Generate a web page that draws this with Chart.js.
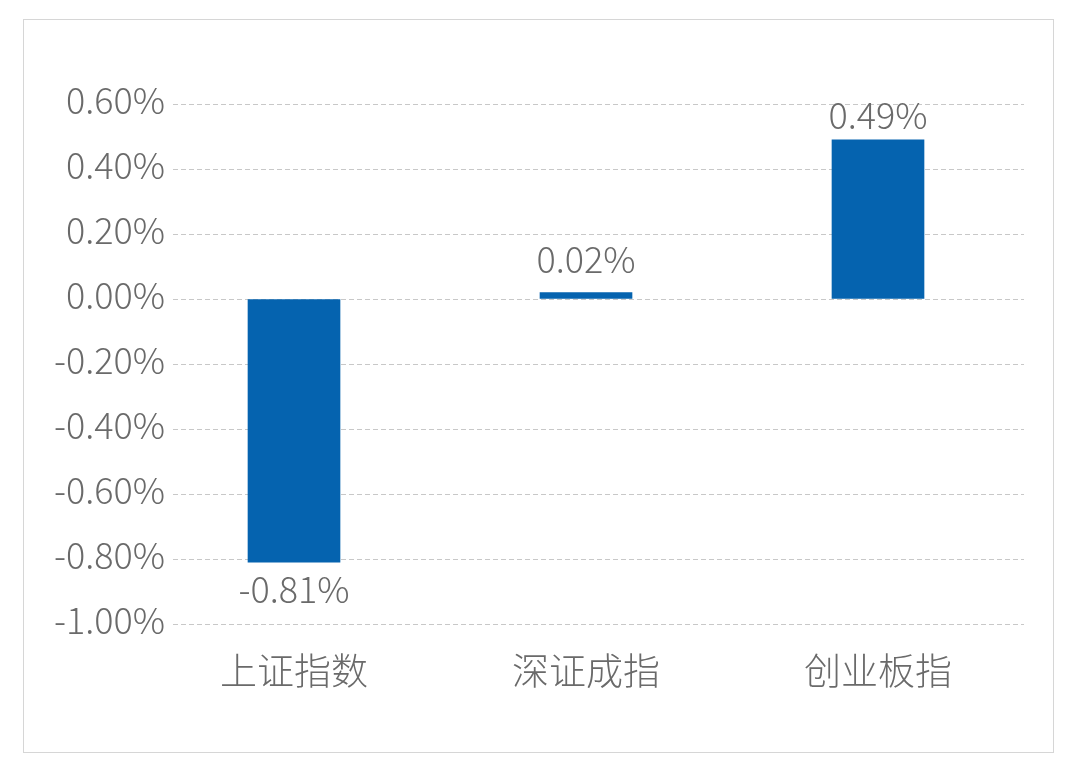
<!DOCTYPE html>
<html><head><meta charset="utf-8">
<script src="https://cdn.jsdelivr.net/npm/chart.js@4"></script>
<style>
html,body{margin:0;padding:0;background:#fff;}
#frame{position:absolute;left:23px;top:19px;width:1031px;height:734px;border:1px solid #d6d6d6;box-sizing:border-box;}
#wrap{position:absolute;left:0;top:0;width:1080px;height:772px;}
</style></head>
<body>
<div id="frame"></div>
<div id="wrap"><canvas id="c" width="1080" height="772"></canvas></div>
<script>
const categories = ['上证指数', '深证成指', '创业板指'];
const values = [-0.81, 0.02, 0.49];
const yTicks = [0.6, 0.4, 0.2, 0, -0.2, -0.4, -0.6, -0.8, -1.0];

const FONT = '"Noto Sans CJK SC", "Noto Sans", sans-serif';
const TXT = '#6a6a6a';

const valueLabels = {
  id: 'valueLabels',
  afterDatasetsDraw(chart) {
    const ctx = chart.ctx;
    const meta = chart.getDatasetMeta(0);
    const zeroY = chart.scales.y.getPixelForValue(0);
    ctx.save();
    ctx.font = '300 36px ' + FONT;
    ctx.fillStyle = TXT;
    ctx.textAlign = 'center';
    ctx.textBaseline = 'alphabetic';
    meta.data.forEach((bar, i) => {
      const v = values[i];
      const txt = v.toFixed(2) + '%';
      if (v >= 0) {
        ctx.fillText(txt, bar.x, Math.min(bar.y - 11, zeroY - 26));
      } else {
        ctx.fillText(txt, bar.x, bar.y + 41);
      }
    });
    ctx.restore();
  }
};

new Chart(document.getElementById('c'), {
  type: 'bar',
  data: {
    datasets: [{
      data: values.map((v, i) => ({x: i, y: v})),
      backgroundColor: '#0563AF',
      barThickness: 92
    }]
  },
  options: {
    responsive: false,
    animation: false,
    plugins: {legend: {display: false}, tooltip: {enabled: false}},
    layout: {padding: {top: 104, right: 56, left: 0, bottom: 0}},
    scales: {
      x: {
        type: 'linear',
        offset: false,
        min: -0.4144,
        max: 2.5,
        afterBuildTicks: s => { s.ticks = categories.map((c, i) => ({value: i})); },
        afterFit: s => { s.height = 148; },
        grid: {display: false, offset: false},
        border: {display: false},
        ticks: {
          autoSkip: false,
          maxRotation: 0,
          padding: 17,
          color: TXT,
          font: {family: FONT, size: 37, weight: 300},
          callback: v => categories[v]
        }
      },
      y: {
        min: -1.0,
        max: 0.6,
        afterBuildTicks: s => { s.ticks = yTicks.map(v => ({value: v})); },
        afterFit: s => { s.width = 173; },
        grid: {color: '#c8c8c8', lineWidth: 1, drawTicks: false},
        border: {display: false, dash: [5, 3]},
        ticks: {
          padding: 8,
          labelOffset: -4,
          color: TXT,
          font: {family: FONT, size: 36, weight: 300},
          callback: v => v.toFixed(2) + '%'
        }
      }
    }
  },
  plugins: [valueLabels]
});
</script>
</body></html>
